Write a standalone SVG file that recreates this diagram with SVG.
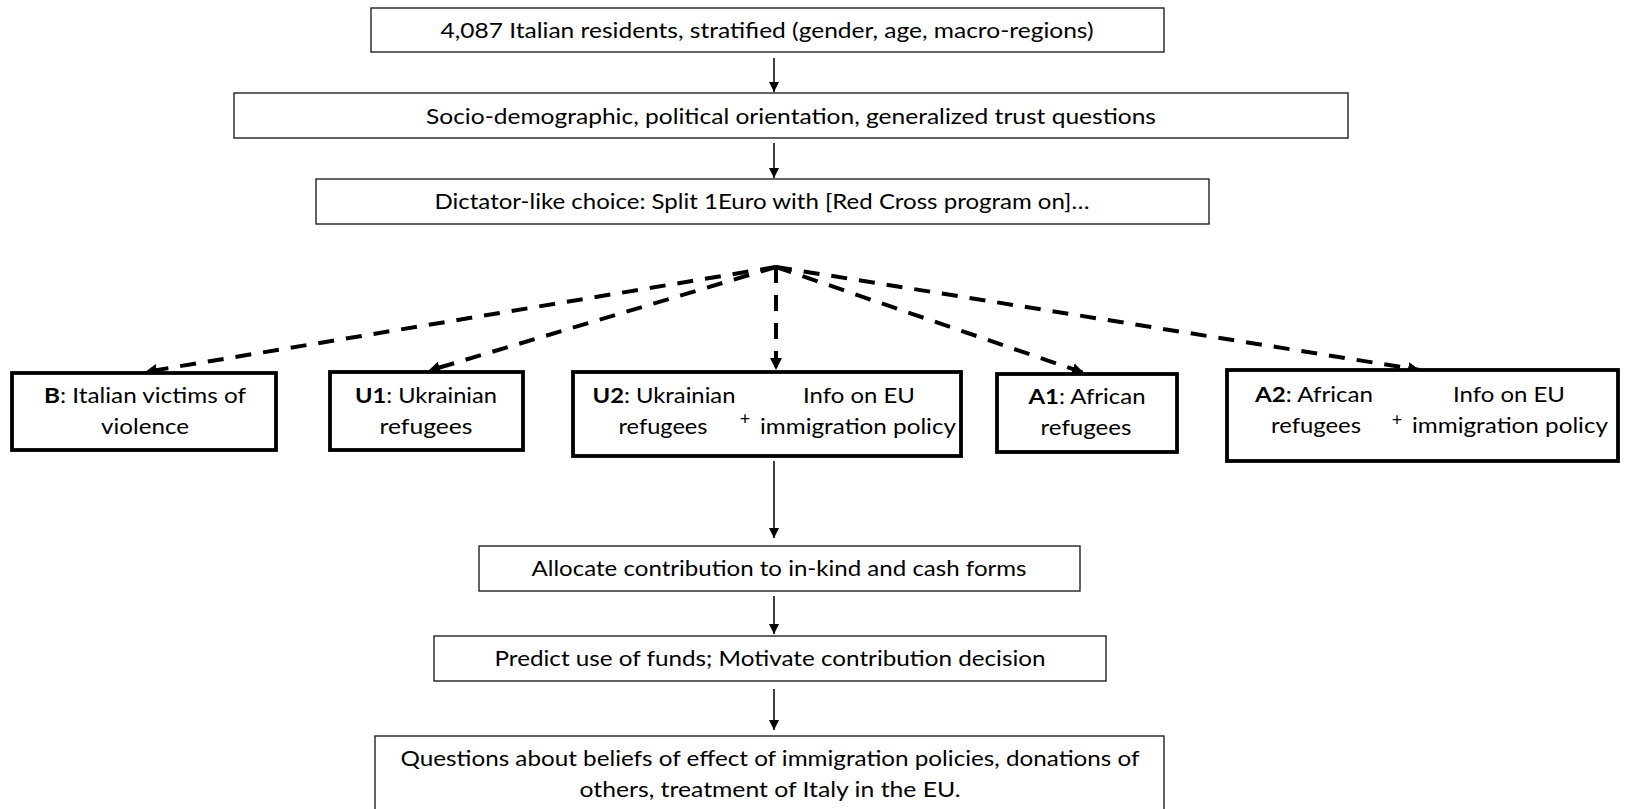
<svg xmlns="http://www.w3.org/2000/svg" width="1625" height="809" viewBox="0 0 1625 809">
<style>
text{font-family:Lato,"Open Sans","Liberation Sans",sans-serif;font-size:21px;fill:#000;text-anchor:middle}
.thin{fill:#fff;stroke:#222;stroke-width:1.4}
.thick{fill:#fff;stroke:#000;stroke-width:3.8}
.solid{stroke:#000;stroke-width:1.5;fill:none}
.dash{stroke:#000;stroke-width:4;fill:none;stroke-dasharray:16 12}
.b{font-weight:bold}
.plus{font-size:18px}
</style>
<defs>
<marker id="ah" markerUnits="userSpaceOnUse" markerWidth="10" markerHeight="12" refX="10" refY="5" orient="auto">
<path d="M0,0 L10,5 L0,10 Z" fill="#000"/>
</marker>
<marker id="ahd" markerUnits="userSpaceOnUse" markerWidth="14" markerHeight="14" refX="12" refY="6" orient="auto">
<path d="M0,0 L12,6 L0,12 Z" fill="#000"/>
</marker>
</defs>
<rect width="1625" height="809" fill="#fff"/>
<g id="connectors">
<line class="solid" x1="774" y1="58" x2="774" y2="92" marker-end="url(#ah)"/>
<line class="solid" x1="774" y1="143" x2="774" y2="178" marker-end="url(#ah)"/>
<line class="solid" x1="774" y1="461" x2="774" y2="538" marker-end="url(#ah)"/>
<line class="solid" x1="774" y1="596" x2="774" y2="634" marker-end="url(#ah)"/>
<line class="solid" x1="774" y1="689" x2="774" y2="730" marker-end="url(#ah)"/>
<line class="dash" x1="776" y1="267" x2="145" y2="372" marker-end="url(#ahd)"/>
<line class="dash" x1="776" y1="267" x2="428" y2="371" marker-end="url(#ahd)"/>
<line class="dash" x1="776" y1="267" x2="776" y2="370" marker-end="url(#ahd)"/>
<line class="dash" x1="776" y1="267" x2="1084" y2="373" marker-end="url(#ahd)"/>
<line class="dash" x1="776" y1="267" x2="1420" y2="370" marker-end="url(#ahd)"/>
</g>
<g id="n1"><rect class="thin" x="371" y="8" width="793" height="44"/><text x="767" y="38" textLength="653" lengthAdjust="spacingAndGlyphs">4,087 Italian residents, stratified (gender, age, macro-regions)</text></g>
<g id="n2"><rect class="thin" x="234" y="93" width="1114" height="45"/><text x="791" y="124" textLength="730" lengthAdjust="spacingAndGlyphs">Socio-demographic, political orientation, generalized trust  questions</text></g>
<g id="n3"><rect class="thin" x="316" y="179" width="893" height="45"/><text x="762" y="209" textLength="655" lengthAdjust="spacingAndGlyphs">Dictator-like choice: Split 1Euro with [Red Cross program on]…</text></g>
<g id="nB"><rect class="thick" x="12" y="373" width="264" height="77"/>
<text x="145" y="403" textLength="202" lengthAdjust="spacingAndGlyphs"><tspan class="b">B</tspan>: Italian victims of</text>
<text x="145" y="434" textLength="88" lengthAdjust="spacingAndGlyphs">violence</text></g>
<g id="nU1"><rect class="thick" x="330" y="372" width="193" height="78"/>
<text x="426" y="403" textLength="142" lengthAdjust="spacingAndGlyphs"><tspan class="b">U1</tspan>: Ukrainian</text>
<text x="426" y="434" textLength="93" lengthAdjust="spacingAndGlyphs">refugees</text></g>
<g id="nU2"><rect class="thick" x="573" y="372" width="388" height="84"/>
<text x="664" y="403" textLength="143" lengthAdjust="spacingAndGlyphs"><tspan class="b">U2</tspan>: Ukrainian</text>
<text x="663" y="434" textLength="89" lengthAdjust="spacingAndGlyphs">refugees</text>
<text class="plus" x="745" y="425">+</text>
<text x="859" y="403" textLength="112" lengthAdjust="spacingAndGlyphs">Info on EU</text>
<text x="858" y="434" textLength="196" lengthAdjust="spacingAndGlyphs">immigration policy</text></g>
<g id="nA1"><rect class="thick" x="997" y="374" width="180" height="78"/>
<text x="1087" y="404" textLength="117" lengthAdjust="spacingAndGlyphs"><tspan class="b">A1</tspan>: African</text>
<text x="1086" y="435" textLength="91" lengthAdjust="spacingAndGlyphs">refugees</text></g>
<g id="nA2"><rect class="thick" x="1227" y="370" width="391" height="91"/>
<text x="1314" y="402" textLength="118" lengthAdjust="spacingAndGlyphs"><tspan class="b">A2</tspan>: African</text>
<text x="1316" y="433" textLength="90" lengthAdjust="spacingAndGlyphs">refugees</text>
<text class="plus" x="1397" y="426">+</text>
<text x="1509" y="402" textLength="112" lengthAdjust="spacingAndGlyphs">Info on EU</text>
<text x="1510" y="433" textLength="196" lengthAdjust="spacingAndGlyphs">immigration policy</text></g>
<g id="n4"><rect class="thin" x="479" y="546" width="601" height="45"/><text x="779" y="576" textLength="495" lengthAdjust="spacingAndGlyphs">Allocate contribution to in-kind and cash forms</text></g>
<g id="n5"><rect class="thin" x="434" y="636" width="672" height="45"/><text x="770" y="666" textLength="551" lengthAdjust="spacingAndGlyphs">Predict use of funds; Motivate contribution decision</text></g>
<g id="n6"><rect class="thin" x="375" y="736" width="789" height="90"/>
<text x="770" y="766" textLength="739" lengthAdjust="spacingAndGlyphs">Questions about beliefs of effect of immigration policies, donations of</text>
<text x="770" y="797" textLength="381" lengthAdjust="spacingAndGlyphs">others, treatment of Italy in the EU.</text></g>
</svg>
